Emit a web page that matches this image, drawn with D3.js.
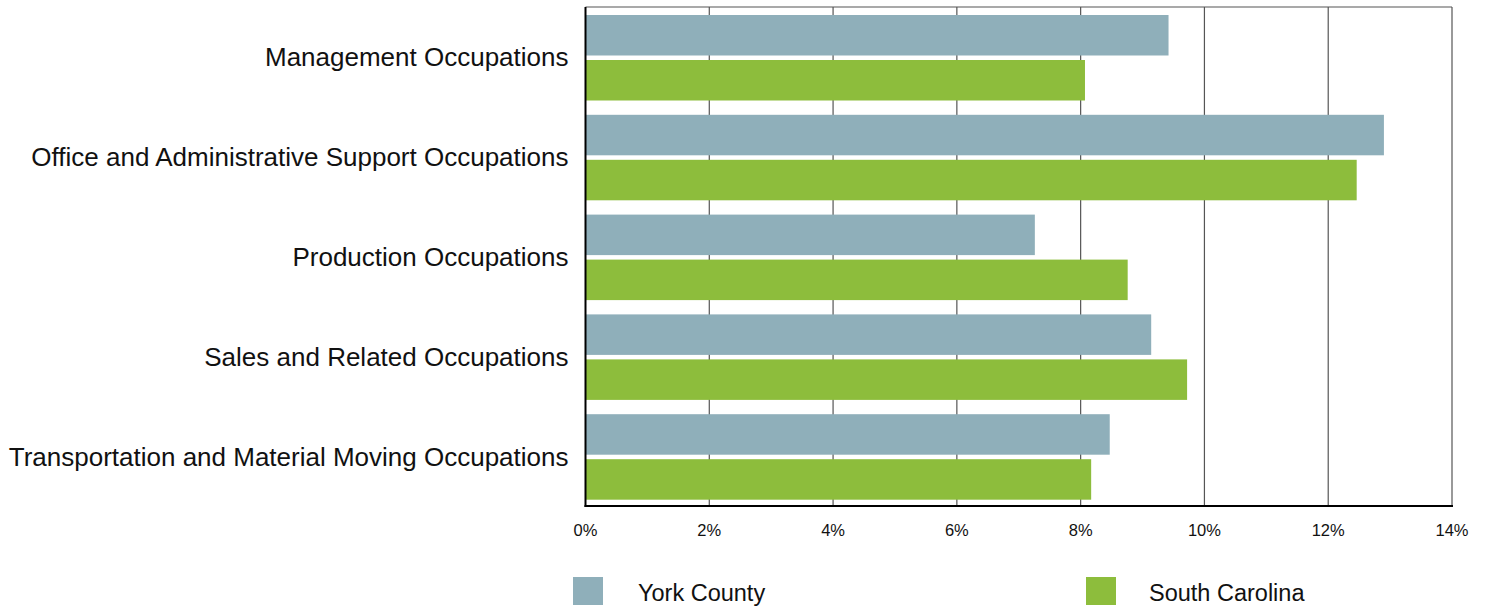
<!DOCTYPE html>
<html lang="en">
<head>
<meta charset="utf-8">
<title>Occupations</title>
<script src="https://d3js.org/d3.v7.min.js"></script>
<style>
body { margin: 0; background: #fff; }
text { font-family: "Liberation Sans", Arial, sans-serif; fill: #111; }
.grid line { stroke: #555; stroke-width: 1.2; }
</style>
</head>
<body>
<svg width="1486" height="606"></svg>
<script>

var categories = ["Management Occupations", "Office and Administrative Support Occupations",
  "Production Occupations", "Sales and Related Occupations",
  "Transportation and Material Moving Occupations"];
var seriesNames = ["York County", "South Carolina"];
var yorkValues = [9.42, 12.90, 7.26, 9.14, 8.47];
var scValues = [8.07, 12.46, 8.76, 9.72, 8.17];
var xTicks = [0, 2, 4, 6, 8, 10, 12, 14];
var colors = ["#8fafba", "#8dbd3c"];

var svg = d3.select("svg");
var plotLeft = 585.5, plotRight = 1452, plotTop = 7, plotBottom = 506;

var x = d3.scaleLinear().domain([0, 14]).range([plotLeft, plotRight]);
var y = d3.scaleBand().domain(categories).range([plotTop, plotBottom]);
var inner = d3.scaleBand().domain(seriesNames).range([8, 93.5]).paddingInner(0.1);

var rows = categories.map(function(c, i) {
  return {name: c, values: [yorkValues[i], scValues[i]]};
});

// grid
var grid = svg.append("g").attr("class", "grid");
grid.selectAll("line")
  .data(xTicks.slice(1))
  .enter().append("line")
    .attr("x1", function(d) { return x(d); })
    .attr("x2", function(d) { return x(d); })
    .attr("y1", plotTop).attr("y2", plotBottom);
grid.append("line")
  .attr("x1", plotLeft).attr("x2", plotRight)
  .attr("y1", plotTop).attr("y2", plotTop);

// bars
var g = svg.selectAll(".row")
  .data(rows)
  .enter().append("g")
    .attr("class", "row")
    .attr("transform", function(d) { return "translate(0," + y(d.name) + ")"; });

g.selectAll("rect")
  .data(function(d) { return d.values; })
  .enter().append("rect")
    .attr("x", x(0))
    .attr("y", function(d, i) { return inner(seriesNames[i]); })
    .attr("height", inner.bandwidth())
    .attr("width", function(d) { return x(d) - x(0); })
    .attr("fill", function(d, i) { return colors[i]; });

g.append("text")
  .attr("x", plotLeft - 17)
  .attr("y", y.bandwidth() / 2 + 9.5)
  .attr("text-anchor", "end")
  .style("font-size", "26px")
  .text(function(d) { return d.name; });

// axes lines
svg.append("line")
  .attr("x1", plotLeft).attr("x2", plotLeft)
  .attr("y1", plotTop).attr("y2", plotBottom + 1)
  .attr("stroke", "#000").attr("stroke-width", 2);
svg.append("line")
  .attr("x1", plotLeft - 1).attr("x2", plotRight + 1)
  .attr("y1", plotBottom).attr("y2", plotBottom)
  .attr("stroke", "#000").attr("stroke-width", 2);

// tick labels
svg.selectAll(".tick-label")
  .data(xTicks)
  .enter().append("text")
    .attr("class", "tick-label")
    .attr("x", function(d) { return x(d); })
    .attr("y", 536)
    .attr("text-anchor", "middle")
    .style("font-size", "16.5px")
    .text(function(d) { return d + "%"; });

// legend
var legendX = [573, 1086];
var leg = svg.selectAll(".legend")
  .data(seriesNames)
  .enter().append("g")
    .attr("class", "legend")
    .attr("transform", function(d, i) { return "translate(" + legendX[i] + ",577)"; });
leg.append("rect")
  .attr("width", 30).attr("height", 28)
  .attr("fill", function(d, i) { return colors[i]; });
leg.append("text")
  .attr("x", function(d, i) { return i == 0 ? 65 : 63; })
  .attr("y", 24)
  .style("font-size", "23.5px")
  .text(function(d) { return d; });

</script>
</body>
</html>
